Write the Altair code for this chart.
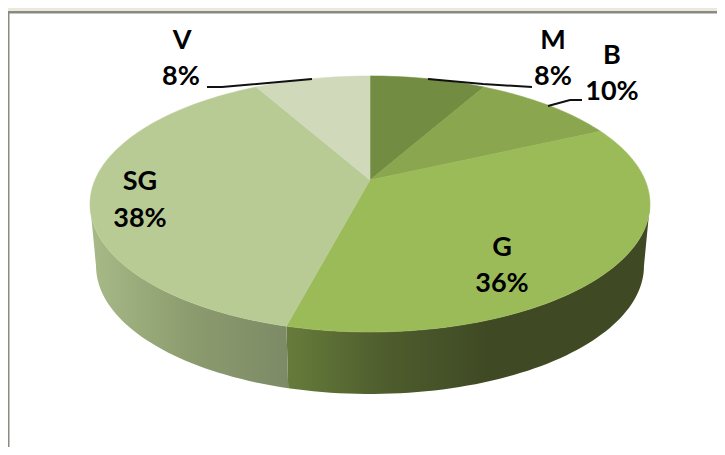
import math
import altair as alt

names = ["M", "B", "G", "SG", "V"]
shares = [8, 10, 36, 38, 8]
percent_labels = ["8%", "10%", "36%", "38%", "8%"]
top_colors = ["#728C41", "#8AA64F", "#9BBB59", "#B9CB94", "#D0DABB"]

name_x = [553, 612, 502, 140, 182]
name_y = [41, 56, 248, 182, 41]
pct_x = [553, 612, 502, 140, 181]
pct_y = [77, 92, 284, 219, 77]

leader_m = [[428, 79], [483, 84], [532, 87]]
leader_b = [[548, 106], [570, 100], [582, 100]]
leader_v = [[207, 87], [222, 87], [312, 79]]

W, H = 709, 439
CX, APEX_Y, B, A, K = 370, 180, 275, 123.5, 0.1875


def rim(theta):
    t = math.radians(theta)
    u, v = math.sin(t), math.cos(t)
    d = 1 + K * v
    return [CX + B * u / d, APEX_Y - A * v / d]


def low(p):
    return [CX + (p[0] - CX) * 274 / 280, p[1] + 62]


def span(a, b, step=1.5):
    n = max(2, int(abs(b - a) / step))
    return [rim(a + (b - a) * i / n) for i in range(n + 1)]


def feature(kind, coords, **props):
    return {"type": "Feature", "properties": props,
            "geometry": {"type": kind, "coordinates": coords}}


total = sum(shares)
edges = [0]
for s in shares:
    edges.append(edges[-1] + 360 * s / total)

slices = []
for i, c in enumerate(top_colors):
    ring = [[CX, APEX_Y]] + span(edges[i], edges[i + 1]) + [[CX, APEX_Y]]
    slices.append(feature("Polygon", [ring], color=c))

right_limit = 100.8
left_limit = 259.2


def side(a, b):
    top = span(a, b)
    bottom = [low(p) for p in reversed(top)]
    ring = top + bottom + [top[0]]
    return [feature("Polygon", [ring])]


proj = dict(type="identity", scale=1, translate=[-8, -8])


def gradient(stops):
    return alt.LinearGradient(
        gradient="linear", x1=0, x2=1, y1=0, y2=0,
        stops=[alt.GradientStop(offset=o, color=c) for o, c in stops])


side_g = alt.Chart(alt.Data(values=side(right_limit, edges[3]))).mark_geoshape(
    fill=gradient([(0, "#667C3B"), (0.28, "#4E5C2D"), (0.55, "#3F4A24"), (1, "#3F4A24")]),
    strokeWidth=0).project(**proj)
side_sg = alt.Chart(alt.Data(values=side(edges[3], left_limit))).mark_geoshape(
    fill=gradient([(0, "#A8BA88"), (0.5, "#8C9C6E"), (1, "#7D8A66")]),
    strokeWidth=0).project(**proj)

tops = alt.Chart(alt.Data(values=slices)).mark_geoshape(strokeWidth=0.6).encode(
    fill=alt.Fill("properties.color:N", scale=None),
    stroke=alt.Stroke("properties.color:N", scale=None),
).project(**proj)

leaders = alt.Chart(alt.Data(values=[
    feature("LineString", leader_m), feature("LineString", leader_b), feature("LineString", leader_v)
])).mark_geoshape(filled=False, stroke="#111111", strokeWidth=2).project(**proj)

frame = alt.Chart(alt.Data(values=[
    feature("Polygon", [[[8, 8], [717, 8], [717, 11], [8, 11], [8, 8]]], color="#ECE9DC"),
    feature("Polygon", [[[8, 11], [717, 11], [717, 13.5], [8, 13.5], [8, 11]]], color="#8A8A84"),
    feature("Polygon", [[[8, 11], [9.5, 11], [9.5, 447], [8, 447], [8, 11]]], color="#8A8A84"),
])).mark_geoshape(strokeWidth=0).encode(
    fill=alt.Fill("properties.color:N", scale=None)
).project(**proj)

rows = []
for i, n in enumerate(names):
    rows.append({"t": n, "lon": name_x[i], "lat": name_y[i]})
    rows.append({"t": percent_labels[i], "lon": pct_x[i], "lat": pct_y[i]})

labels = alt.Chart(alt.Data(values=rows)).mark_text(
    font="Lato", fontWeight="bold", fontSize=27, color="#000000",
    align="center", baseline="middle",
).encode(longitude="lon:Q", latitude="lat:Q", text="t:N").project(**proj)

chart = alt.layer(frame, side_g, side_sg, tops, leaders, labels).properties(
    width=W, height=H, padding=0, autosize=alt.AutoSizeParams(type="none"),
    background="#FFFFFF",
).configure_view(stroke=None)

chart.save("out.html", embed_options={"renderer": "svg", "actions": False})
